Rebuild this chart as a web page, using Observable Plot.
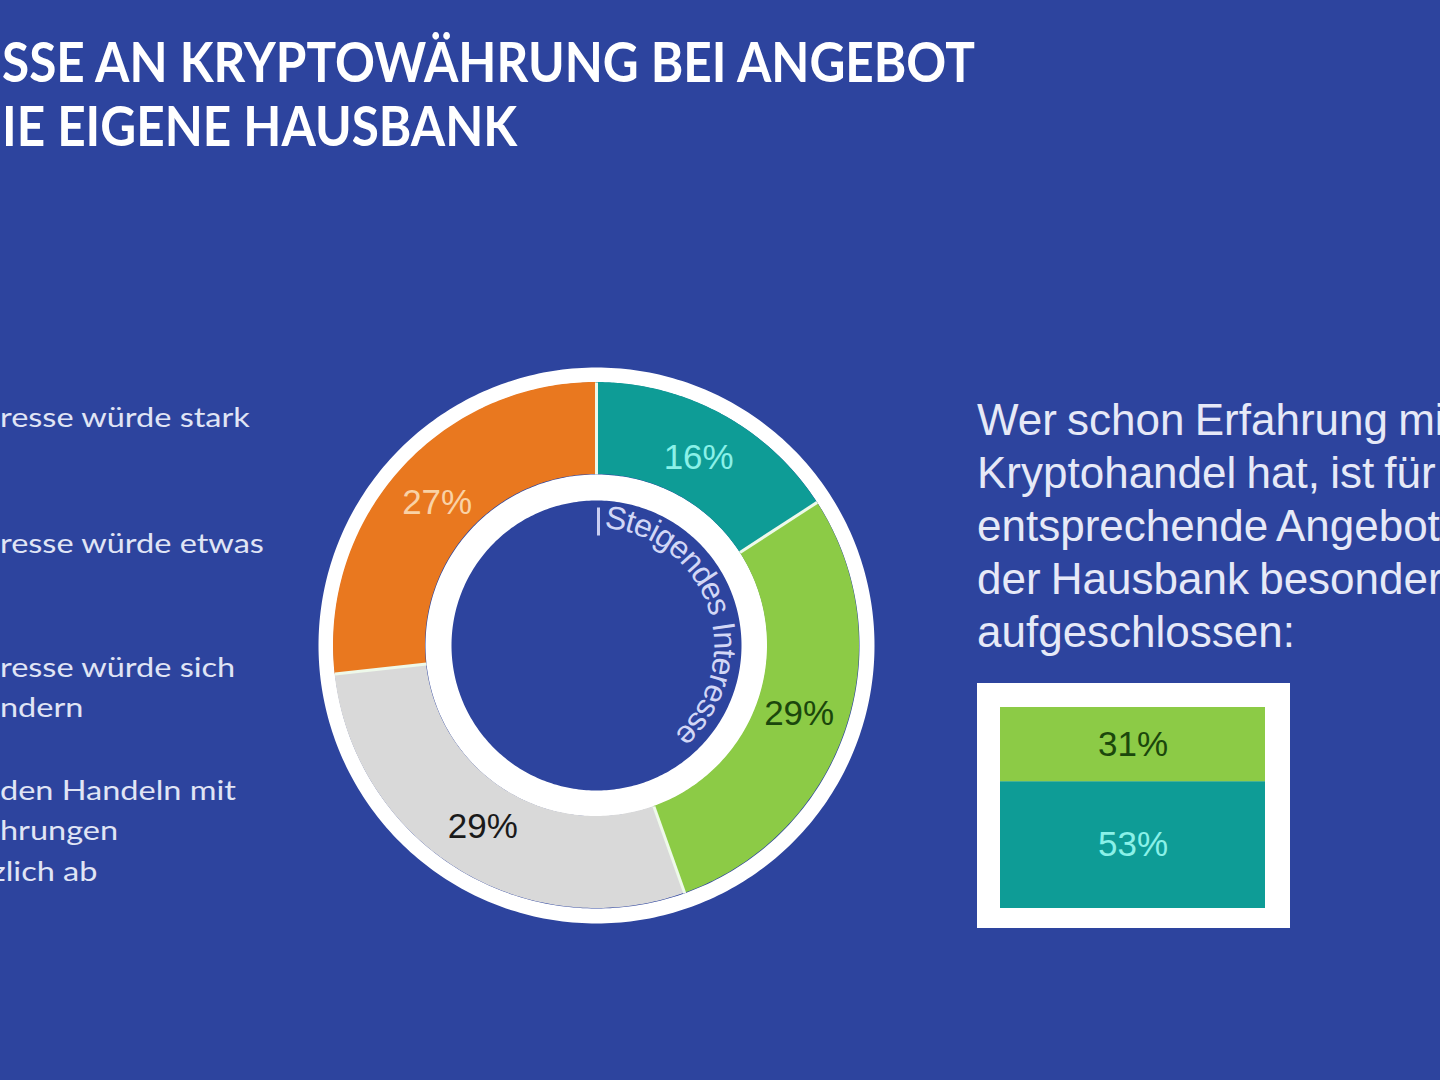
<!DOCTYPE html>
<html>
<head>
<meta charset="utf-8">
<script src="https://cdn.jsdelivr.net/npm/d3@7"></script>
<script src="https://cdn.jsdelivr.net/npm/@observablehq/plot@0.6"></script>
<style>
  html, body { margin: 0; padding: 0; width: 1440px; height: 1080px; overflow: hidden; background: #2D449E; }
  svg { position: absolute; }
</style>
</head>
<body>
<script>
// ---------------- data ----------------
const titleLines = ["SSE AN KRYPTOWÄHRUNG BEI ANGEBOT", "IE EIGENE HAUSBANK"];
const legendLines = ["resse würde stark", "resse würde etwas", "resse würde sich", "ndern", "den Handeln mit", "hrungen", "zlich ab"];
const categories = ["Interesse würde stark steigen", "Interesse würde etwas steigen", "Interesse würde sich nicht ändern", "Lehne Handeln mit Kryptowährungen ab"];
const shares = [16, 29, 29, 27];
const sliceColors = ["#0E9C96", "#8CCB46", "#D9D9D9", "#E9781F"];
const sliceLabelColors = ["#8AF1E8", "#1B470C", "#1A1A1A", "#F9D2A6"];
const ringLabel = "Steigendes Interesse";
const sideText = ["Wer schon Erfahrung mit", "Kryptohandel hat, ist für", "entsprechende Angebote", "der Hausbank besonders", "aufgeschlossen:"];
const barGroup = "Mit Erfahrung";
const barCategories = ["Interesse würde stark steigen", "Interesse würde etwas steigen"];
const barValues = [53, 31];
const barLabelColors = ["#8AF1E8", "#1B470C"];

// ---------------- layout constants ----------------
const R_IN = 171, R_OUT = 263;
const RING_OUT_MID = 270.5, RING_OUT_W = 15;
const RING_IN_MID = 158, RING_IN_W = 26;
const LABEL_R = 214;
const TEXT_R = 128, TEXT_FS = 32, TEXT_START_DEG = 4;
const TICK_R0 = 110, TICK_R1 = 138;

const svgNS = "http://www.w3.org/2000/svg";

// ---------------- page texts (overlay) ----------------
const overlay = document.createElementNS(svgNS, "svg");
overlay.setAttribute("width", 1440);
overlay.setAttribute("height", 1080);
overlay.style.left = "0px"; overlay.style.top = "0px";
document.body.appendChild(overlay);

function addText(str, x, y, opts) {
  const t = document.createElementNS(svgNS, "text");
  t.textContent = str;
  t.setAttribute("font-family", opts.family);
  t.setAttribute("font-size", opts.size);
  t.setAttribute("font-weight", opts.weight || 400);
  t.setAttribute("fill", opts.color);
  if (opts.wordSpacing != null) t.style.wordSpacing = opts.wordSpacing + "px";
  t.setAttribute("x", 0); t.setAttribute("y", 0);
  overlay.appendChild(t);
  let sx = opts.scale || 1;
  if (opts.fit) sx = opts.fit / t.getComputedTextLength();
  t.setAttribute("transform", `translate(${x},${y}) scale(${sx},1)`);
  return sx;
}

// title
const titleOpts = {family: "Lato", size: 56, weight: 700, color: "#FFFFFF"};
const ts = addText(titleLines[0], 2, 82, {...titleOpts, fit: 973});
addText(titleLines[1], 2, 146, {...titleOpts, scale: ts});

// legend (left, cropped)
const legendBaselines = [427, 553, 677, 717, 800, 840, 881];
const legendX = [0, 0, 0, 0, 0, 0, -9];
const legOpts = {family: "Lato", size: 26, weight: 400, color: "#E0E5F5"};
const ls = addText(legendLines[0], legendX[0], legendBaselines[0], {...legOpts, fit: 250});
legendLines.slice(1).forEach((s, i) => addText(s, legendX[i + 1], legendBaselines[i + 1], {...legOpts, scale: ls}));

// side text
sideText.forEach((s, i) => addText(s, 977, 435 + i * 53, {family: "Liberation Sans", size: 44, color: "#E6E9F7", wordSpacing: -2}));

// ---------------- donut ----------------
const total = d3.sum(shares);
let acc = 0;
const slices = categories.map((c, i) => {
  const a0 = acc / total * 2 * Math.PI;
  acc += shares[i];
  const a1 = acc / total * 2 * Math.PI;
  return {c, i, v: shares[i], a0, a1, mid: (a0 + a1) / 2};
});
const px = (r, a) => r * Math.sin(a);
const py = (r, a) => -r * Math.cos(a);

const areaPts = slices.flatMap(s => d3.range(0, 121).map(k => {
  const a = s.a0 + (s.a1 - s.a0) * k / 120;
  return {c: s.c, x1: px(R_IN, a), y1: py(R_IN, a), x2: px(R_OUT, a), y2: py(R_OUT, a)};
}));
const circle = r => d3.range(0, 361).map(d => {
  const a = d * Math.PI / 180;
  return {x: px(r, a), y: py(r, a)};
});

// curved label characters
const ctx = document.createElement("canvas").getContext("2d");
ctx.font = `${TEXT_FS}px "Liberation Sans"`;
const chars = [...ringLabel];
const widths = chars.map(ch => ctx.measureText(ch).width);
let run = 0;
const ringChars = chars.map((ch, i) => {
  const m = run + widths[i] / 2;
  run += widths[i];
  const a = TEXT_START_DEG * Math.PI / 180 + m / TEXT_R;
  return {ch, x: px(TEXT_R, a), y: py(TEXT_R, a), rot: a * 180 / Math.PI};
}).filter(d => d.ch !== " ");

const donut = Plot.plot({
  width: 600, height: 600,
  margin: 0,
  x: {domain: [-300, 300], range: [0, 600], axis: null},
  y: {domain: [-300, 300], range: [0, 600], axis: null},
  color: {domain: categories, range: sliceColors},
  style: {background: "transparent", fontFamily: "Liberation Sans"},
  marks: [
    Plot.line(circle(RING_OUT_MID), {x: "x", y: "y", stroke: "#FFFFFF", strokeWidth: RING_OUT_W}),
    Plot.line(circle(RING_IN_MID), {x: "x", y: "y", stroke: "#FFFFFF", strokeWidth: RING_IN_W}),
    Plot.area(areaPts, {x1: "x1", y1: "y1", x2: "x2", y2: "y2", z: "c", fill: "c", curve: "linear"}),
    Plot.link(slices, {
      x1: s => px(R_IN, s.a0), y1: s => py(R_IN, s.a0),
      x2: s => px(R_OUT, s.a0), y2: s => py(R_OUT, s.a0),
      stroke: "#EEF9EA", strokeWidth: 3
    }),
    ...slices.map((s, i) => Plot.text([s], {
      x: d => px(LABEL_R, d.mid), y: d => py(LABEL_R, d.mid),
      text: d => d.v + "%", fill: sliceLabelColors[i], fontSize: 35
    })),
    Plot.link([slices[0]], {
      x1: s => px(TICK_R0, s.a0) + 2, y1: s => py(TICK_R0, s.a0),
      x2: s => px(TICK_R1, s.a0) + 2, y2: s => py(TICK_R1, s.a0),
      stroke: "#C9CEF2", strokeWidth: 3
    }),
    Plot.text(ringChars, {x: "x", y: "y", text: "ch", rotate: "rot", fontSize: TEXT_FS, fill: "#D2D7F6", textAnchor: "middle", lineAnchor: "middle"})
  ]
});
donut.style.left = "296px";
donut.style.top = "345px";
document.body.appendChild(donut);

// ---------------- stacked bar ----------------
let cum = 0;
const barData = barCategories.map((c, i) => {
  const d = {group: barGroup, c, v: barValues[i], y0: cum};
  cum += barValues[i];
  d.y1 = cum;
  return d;
});
const bar = Plot.plot({
  width: 313, height: 245,
  marginTop: 24, marginBottom: 20, marginLeft: 23, marginRight: 25,
  x: {axis: null, padding: 0},
  y: {axis: null, domain: [0, cum]},
  color: {domain: categories, range: sliceColors},
  style: {background: "#FFFFFF", fontFamily: "Liberation Sans"},
  marks: [
    Plot.barY(barData, {x: "group", y: "v", fill: "c", inset: 0}),
    ...barData.map((d, i) => Plot.text([d], {
      x: "group", y: e => (e.y0 + e.y1) / 2, text: e => e.v + "%",
      fill: barLabelColors[i], fontSize: 35
    }))
  ]
});
bar.style.left = "977px";
bar.style.top = "683px";
document.body.appendChild(bar);
</script>
</body>
</html>
